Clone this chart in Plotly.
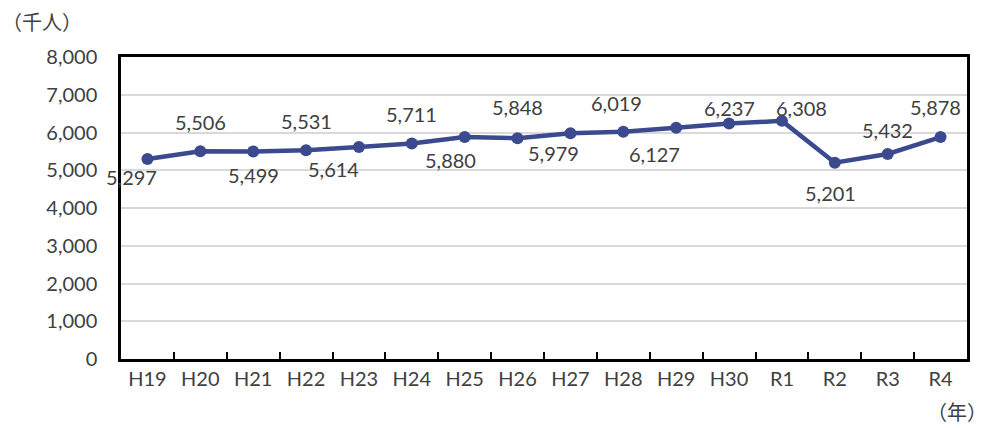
import plotly.graph_objects as go

years = ["H19", "H20", "H21", "H22", "H23", "H24", "H25", "H26",
         "H27", "H28", "H29", "H30", "R1", "R2", "R3", "R4"]
visitors = [5297, 5506, 5499, 5531, 5614, 5711, 5880, 5848,
            5979, 6019, 6127, 6237, 6308, 5201, 5432, 5878]
y_ticks = [0, 1000, 2000, 3000, 4000, 5000, 6000, 7000, 8000]

# label offsets in pixels (x right, y down) relative to each point
label_dx = [-16, 0, 0, 0, -25, 0, -14, 0, -17, -7, -22, 0, 20, -4, 0, -5]
label_dy = [18, -29, 24, -29, 22, -29, 23, -31, 20, -29, 26, -16, -13, 30, -24, -30]

FONT = "Lato, 'Noto Sans', sans-serif"
TXT = "#404040"
LINE = "#3B4A8F"

fig = go.Figure()
fig.add_trace(go.Scatter(
    x=years, y=visitors, mode="lines+markers",
    line=dict(color=LINE, width=4.5),
    marker=dict(color=LINE, size=12),
    hoverinfo="skip", showlegend=False,
))

for cat, v, dx, dy in zip(years, visitors, label_dx, label_dy):
    fig.add_annotation(
        x=cat, y=v, xref="x", yref="y", text=f"{v:,}", showarrow=False,
        xshift=dx, yshift=-dy, xanchor="center", yanchor="middle",
        font=dict(family=FONT, size=20, color=TXT),
    )

fig.add_annotation(x=(0 - 121) / 846, y=(359 - 22) / 302, xref="paper", yref="paper",
                   text="（千人）", showarrow=False, xanchor="left", yanchor="middle",
                   font=dict(family="Noto Sans CJK JP", size=20, color=TXT))
fig.add_annotation(x=(989 - 121) / 846, y=(359 - 412) / 302, xref="paper", yref="paper",
                   text="（年）", showarrow=False, xanchor="right", yanchor="middle",
                   font=dict(family="Noto Sans CJK JP", size=20, color=TXT))

fig.update_layout(
    width=989, height=428,
    margin=dict(l=121, r=22, t=57, b=69),
    paper_bgcolor="white", plot_bgcolor="white",
    font=dict(family=FONT, size=20, color=TXT),
    xaxis=dict(
        type="category", range=[-0.5, len(years) - 0.5],
        tickson="boundaries", ticks="inside", ticklen=7,
        tickwidth=2, tickcolor="black", showline=True, linecolor="black",
        linewidth=2.5, mirror=True, showgrid=False,
        tickfont=dict(family=FONT, size=20, color=TXT),
    ),
    yaxis=dict(
        range=[0, 8000], tickvals=y_ticks, tickformat=",d",
        showline=True, linecolor="black", linewidth=2.5, mirror=True,
        showgrid=True, gridcolor="#D9D9D9", gridwidth=1.5, zeroline=False,
        ticks="", ticklabelstandoff=17,
        tickfont=dict(family=FONT, size=20, color=TXT),
    ),
)

fig.write_html("out.html", config={"displayModeBar": False},
               post_script="document.body.style.margin='0';")
